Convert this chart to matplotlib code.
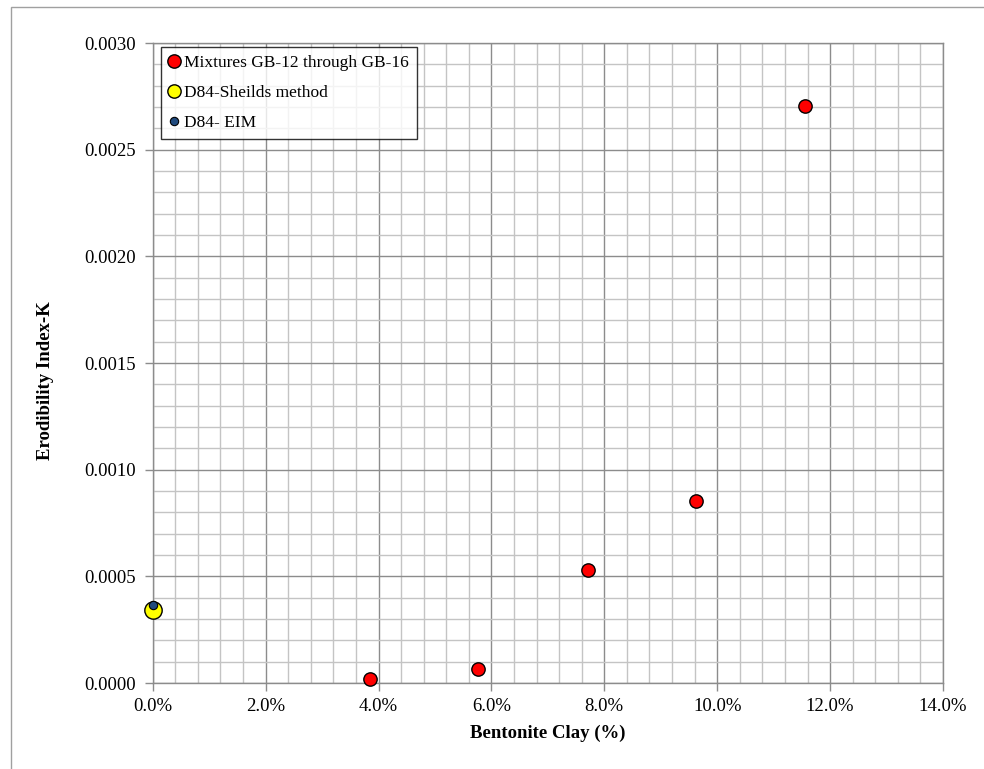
import matplotlib
matplotlib.use("Agg")
import matplotlib.pyplot as plt
from matplotlib.ticker import MultipleLocator, FuncFormatter
from matplotlib.patches import Rectangle

# Erodibility index K versus bentonite clay content
mix_clay_pct = [3.85, 5.77, 7.71, 9.63, 11.56]
mix_k = [0.000017, 0.000064, 0.000528, 0.000855, 0.002706]

shields_clay_pct = [0.0]
shields_k = [0.000342]

eim_clay_pct = [0.0]
eim_k = [0.000364]

labels = ["Mixtures GB-12 through GB-16", "D84-Sheilds method", "D84- EIM"]

W, H, DPI = 984, 769, 100
fig = plt.figure(figsize=(W / DPI, H / DPI), dpi=DPI)
plt.rcParams['font.family'] = ['Liberation Serif', 'DejaVu Serif']

# outer chart frame
fig.patches.append(Rectangle((11 / W, -0.01), 1.0, (H - 7) / H + 0.01,
                             transform=fig.transFigure, fill=False,
                             edgecolor='#a0a0a0', linewidth=1.0))

left, right = 152.7 / W, 943 / W
bottom, top = 1 - 683 / H, 1 - 43 / H
ax = fig.add_axes([left, bottom, right - left, top - bottom])

ax.set_xlim(0, 14)
ax.set_ylim(0, 0.003)
ax.xaxis.set_major_locator(MultipleLocator(2))
ax.xaxis.set_minor_locator(MultipleLocator(0.4))
ax.yaxis.set_major_locator(MultipleLocator(0.0005))
ax.yaxis.set_minor_locator(MultipleLocator(0.0001))
ax.xaxis.set_major_formatter(FuncFormatter(lambda v, p: f"{v:.1f}%"))
ax.yaxis.set_major_formatter(FuncFormatter(lambda v, p: f"{v:.4f}"))

ax.grid(which='minor', color='#c4c4c4', linewidth=1.0)
ax.grid(which='major', color='#8c8c8c', linewidth=1.0)
ax.set_axisbelow(True)

for s in ax.spines.values():
    s.set_color('#8c8c8c')
    s.set_linewidth(1.0)

ax.tick_params(which='major', length=6, width=1, color='#8c8c8c',
               labelsize=13.5)
ax.tick_params(axis='x', which='major', pad=5)
ax.tick_params(axis='y', which='major', pad=6)
ax.tick_params(which='minor', length=0)

ax.plot(mix_clay_pct, mix_k, linestyle='none', marker='o', markersize=9.6,
        markerfacecolor='#ff0000', markeredgecolor='black',
        markeredgewidth=1.0, label=labels[0], clip_on=False, zorder=5)
ax.plot(shields_clay_pct, shields_k, linestyle='none', marker='o',
        markersize=12.5, markerfacecolor='#ffff00', markeredgecolor='black',
        markeredgewidth=1.0, label=labels[1], clip_on=False, zorder=5)
ax.plot(eim_clay_pct, eim_k, linestyle='none', marker='o', markersize=6,
        markerfacecolor='#1f497d', markeredgecolor='black',
        markeredgewidth=0.8, label=labels[2], clip_on=False, zorder=6)

ax.set_xlabel("Bentonite Clay (%)", fontsize=13.5, fontweight='bold',
              labelpad=7)
ax.set_ylabel("Erodibility Index-K", fontsize=13.5, fontweight='bold')
ax.yaxis.set_label_coords(54 / W, 1 - 381 / H, transform=fig.transFigure)

leg = ax.legend(loc='upper left',
                bbox_to_anchor=(161 / W, 1 - 47 / H),
                bbox_transform=fig.transFigure, borderaxespad=0,
                fontsize=12.5, frameon=True, fancybox=False,
                handlelength=0.6, handletextpad=0.3, borderpad=0.45,
                labelspacing=0.8, numpoints=1)
leg.get_frame().set_edgecolor('black')
leg.get_frame().set_linewidth(1.0)
leg.legend_handles[1].set_markersize(9.6)

fig.savefig("out.png", dpi=DPI)
